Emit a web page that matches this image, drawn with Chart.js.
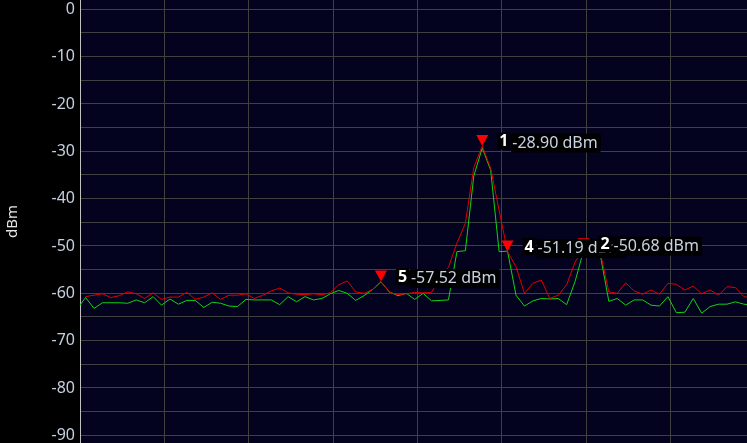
<!DOCTYPE html>
<html>
<head>
<meta charset="utf-8">
<script src="https://cdn.jsdelivr.net/npm/chart.js@4.4.0/dist/chart.umd.min.js"></script>
<style>
  html, body { margin: 0; padding: 0; background: #000; }
  #wrap { width: 747px; height: 443px; }
</style>
</head>
<body>
<div id="wrap"><canvas id="spectrum" width="747" height="443"></canvas></div>
<script>
// Sweep traces in dBm, one value per point (point 0 sits just left of the plot)
const traceRed = [
  null, -60.7, -60.4, -60.1, -60.9, -60.5, -59.7, -60.1, -61.1, -59.9,
  -61.3, -60.8, -60.8, -59.8, -61.3, -60.8, -59.9, -61.3, -60.4, -60.4,
  -60.1, -61.1, -60.4, -59.5, -58.9, -59.9, -60.2, -60.3, -60.1, -60.3,
  -59.9, -58.2, -57.4, -59.7, -60.0, -59.2, -57.52, -59.8, -60.3, -60.1,
  -59.8, -59.9, -59.8, -56.5, -54.5, -49.4, -45.2, -33.4, -28.90, -33.6,
  -42.5, -51.19, -54.4, -60.0, -57.9, -57.2, -61.1, -60.4, -58.2, -53.4,
  -50.68, -50.9, -51.5, -59.7, -60.0, -57.8, -59.5, -60.2, -59.3, -60.2,
  -57.9, -58.1, -59.3, -58.5, -60.1, -59.3, -60.4, -58.6, -58.8, -60.7,
  -61.0
];
const traceGreen = [
  -63.3, -60.9, -63.2, -62.0, -62.0, -62.0, -62.1, -61.4, -62.0, -60.7,
  -62.5, -61.2, -62.3, -61.5, -61.5, -63.0, -61.9, -62.1, -62.7, -62.8,
  -61.3, -61.4, -61.4, -61.4, -62.4, -60.7, -61.8, -60.7, -61.4, -61.1,
  -60.1, -59.4, -60.0, -61.5, -60.5, -59.2, -57.6, -59.7, -60.5, -60.0,
  -61.3, -60.0, -61.6, -61.5, -61.4, -51.2, -51.0, -35.2, -29.3, -34.0,
  -51.2, -51.1, -60.4, -62.7, -61.6, -61.1, -61.2, -61.1, -62.4, -57.5,
  -51.0, -51.2, -52.0, -61.7, -61.1, -62.5, -61.4, -61.4, -62.5, -62.7,
  -60.7, -64.1, -64.0, -61.1, -64.2, -62.8, -62.3, -62.3, -61.8, -62.3,
  -62.5
];

// Markers sit on the red trace; drawn in this order (2 ends up on top of 4)
const markerNames = ['1', '5', '4', '2'];
const markerPoints = [48, 36, 51, 60];

// Axis settings
const yMin = -91.63;
const yMax = 1.97;
const yGridStep = 5;
const yLabelStep = 10;
const xDivision = 10;
const pointShift = -0.34;
const xMax = 79.03;

function toPoints(trace) {
  return trace.map((v, i) => ({ x: i + pointShift, y: v }));
}

const plotBackground = {
  id: 'plotBackground',
  beforeDraw(chart) {
    const { ctx, chartArea: a } = chart;
    ctx.save();
    ctx.fillStyle = '#000000';
    ctx.fillRect(0, 0, chart.width, chart.height);
    ctx.fillStyle = '#03021f';
    ctx.fillRect(a.left, a.top, a.right - a.left, a.bottom - a.top);
    ctx.restore();
  }
};

const markerPlugin = {
  id: 'markers',
  afterDatasetsDraw(chart) {
    const ctx = chart.ctx;
    const xs = chart.scales.x;
    const ys = chart.scales.y;
    const spots = markerPoints.map(i => ({
      x: xs.getPixelForValue(i + pointShift),
      y: ys.getPixelForValue(traceRed[i]),
      v: traceRed[i]
    }));

    ctx.save();
    // triangles first
    ctx.fillStyle = '#ff0000';
    spots.forEach(p => {
      ctx.beginPath();
      ctx.moveTo(p.x - 6, p.y - 11);
      ctx.lineTo(p.x + 6, p.y - 11);
      ctx.lineTo(p.x, p.y);
      ctx.closePath();
      ctx.fill();
    });

    // then the labels
    ctx.textBaseline = 'middle';
    spots.forEach((p, n) => {
      const cy = p.y - 4.5;
      ctx.font = 'bold 16px "Noto Sans"';
      const numW = ctx.measureText(markerNames[n]).width;
      ctx.fillStyle = '#000000';
      ctx.fillRect(p.x + 15, cy - 9, numW + 4, 17);
      ctx.fillStyle = '#ffffff';
      ctx.fillText(markerNames[n], p.x + 17, cy);

      const txt = p.v.toFixed(2) + ' dBm';
      ctx.font = '16px "Noto Sans"';
      const w = ctx.measureText(txt).width;
      ctx.fillStyle = '#000000';
      ctx.fillRect(p.x + 29, cy - 8, w + 4, 19);
      ctx.fillStyle = '#c8d2e2';
      ctx.fillText(txt, p.x + 30, cy + 1.5);
    });
    ctx.restore();
  }
};

new Chart(document.getElementById('spectrum'), {
  type: 'line',
  data: {
    datasets: [
      {
        label: 'Trace 1',
        data: toPoints(traceRed),
        borderColor: '#e00000',
        borderWidth: 1,
        pointRadius: 0,
        tension: 0,
        spanGaps: false
      },
      {
        label: 'Trace 2',
        data: toPoints(traceGreen),
        borderColor: '#10d410',
        borderWidth: 1,
        pointRadius: 0,
        tension: 0
      }
    ]
  },
  options: {
    responsive: false,
    animation: false,
    events: [],
    layout: { padding: 0 },
    plugins: {
      legend: { display: false },
      tooltip: { enabled: false }
    },
    scales: {
      x: {
        type: 'linear',
        min: 0,
        max: xMax,
        ticks: { display: false, stepSize: xDivision, includeBounds: false },
        grid: { color: '#404040', drawTicks: false },
        border: { display: false }
      },
      y: {
        min: yMin,
        max: yMax,
        ticks: {
          stepSize: yGridStep,
          includeBounds: false,
          padding: 5,
          color: '#c4d0e0',
          font: { family: 'Noto Sans', size: 16 },
          callback: v => (v % yLabelStep === 0 ? String(v) : '')
        },
        grid: { color: '#404040', drawTicks: false },
        border: { color: '#c0c0c0', width: 1 },
        title: {
          display: true,
          text: 'dBm',
          color: '#e6e6e6',
          font: { family: 'Noto Sans', size: 15 },
          padding: 4
        },
        afterFit(scale) {
          scale.width = 80;
          scale.paddingTop = 0;
          scale.paddingBottom = 0;
        }
      }
    }
  },
  plugins: [plotBackground, markerPlugin]
});
</script>
</body>
</html>
